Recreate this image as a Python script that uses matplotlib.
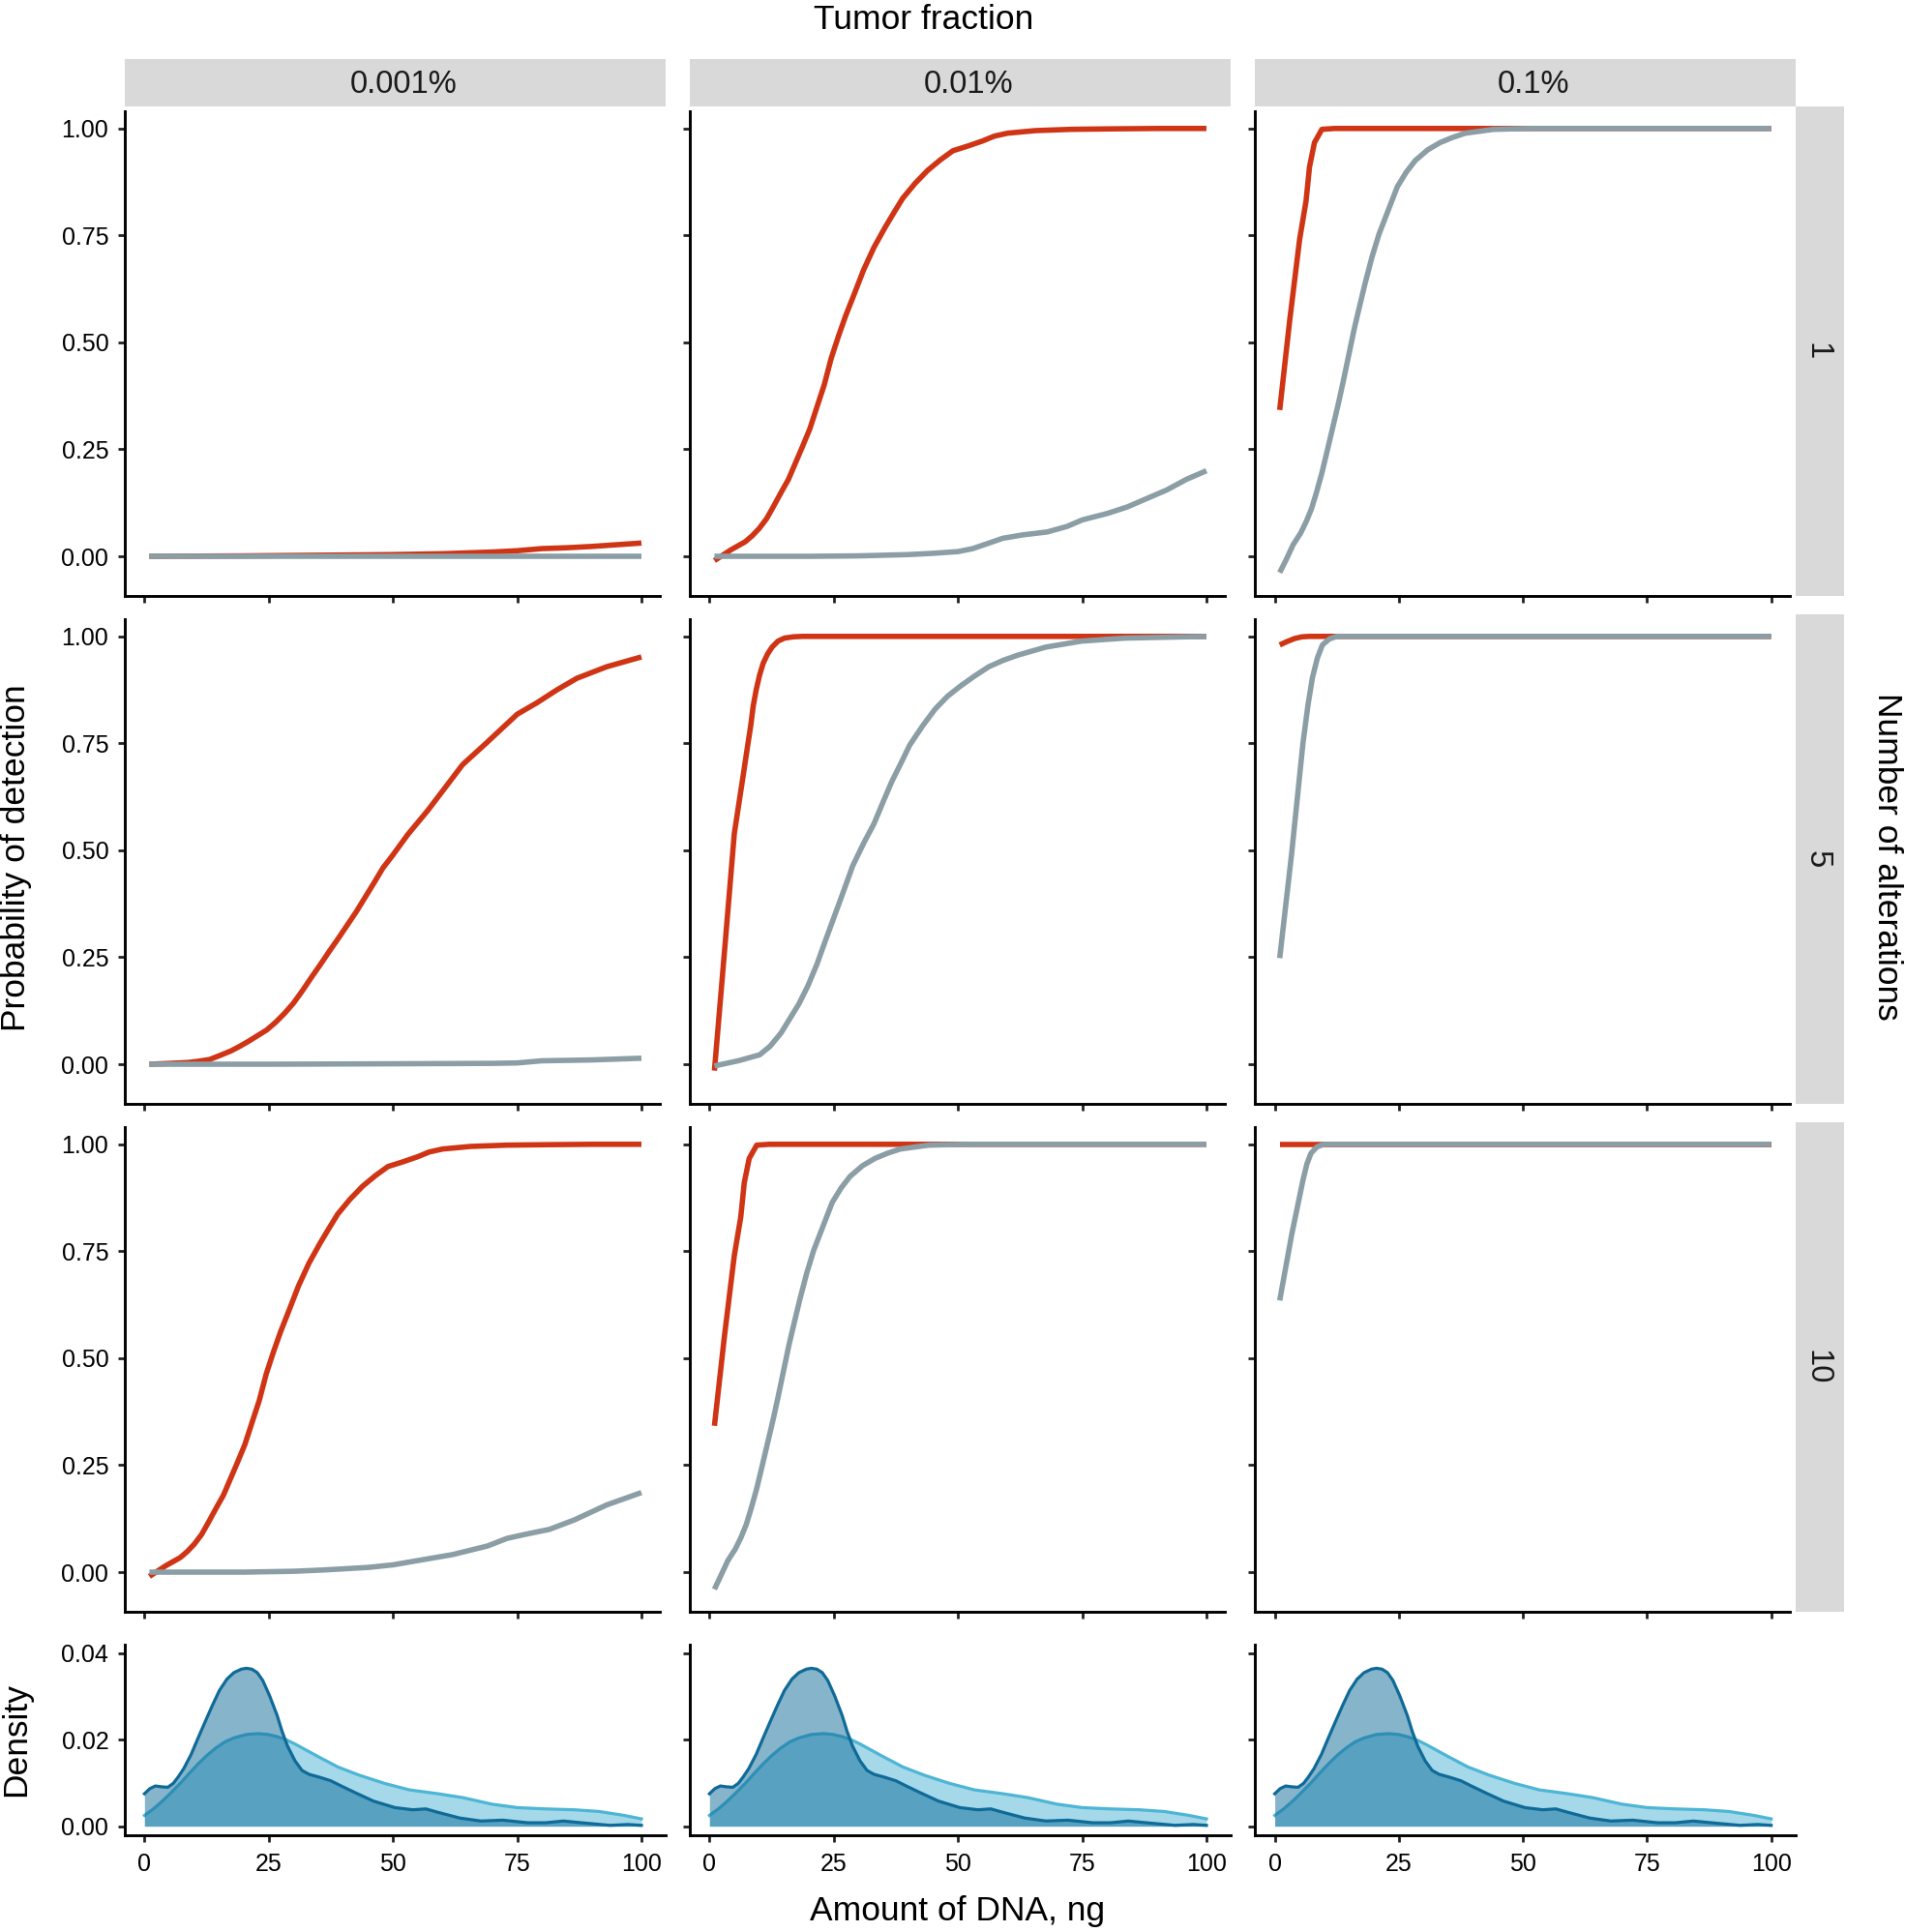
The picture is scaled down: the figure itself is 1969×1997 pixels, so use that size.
import matplotlib
matplotlib.use("Agg")
import matplotlib.pyplot as plt
from matplotlib.patches import Rectangle

plt.rcParams['font.family'] = ['Liberation Sans', 'DejaVu Sans']

# ---------------- data ----------------
tumor_fractions = ["0.001%", "0.01%", "0.1%"]
n_alterations = ["1", "5", "10"]
x_ticks = [0, 25, 50, 75, 100]
x_tick_labels = ["0", "25", "50", "75", "100"]
y_ticks = [0.00, 0.25, 0.50, 0.75, 1.00]
y_tick_labels = ["0.00", "0.25", "0.50", "0.75", "1.00"]
dens_ticks = [0.00, 0.02, 0.04]
dens_tick_labels = ["0.00", "0.02", "0.04"]

# 1 alteration, 0.001%
r1c1_red_x = [1, 20, 40, 50, 60, 65, 70, 75, 80, 85, 90, 95, 100]
r1c1_red_y = [0.0, 0.001, 0.003, 0.004, 0.006, 0.008, 0.010, 0.013, 0.018, 0.020, 0.023, 0.027, 0.031]
r1c1_gray_x = [1, 25, 50, 75, 100]
r1c1_gray_y = [0.0, 0.0, 0.0, 0.0, 0.0]

# 1 alteration, 0.01%
r1c2_red_x = [1, 4.3, 7.2, 8.6, 10, 11.5, 13, 14.4, 15.9, 17.3, 18.7, 20.2, 21.6, 23.1, 24.5, 26,
              27.4, 29.2, 31, 33.1, 35.3, 37.1, 38.9, 41.4, 43.9, 46.5, 49, 52, 55, 57.3, 60, 65.6,
              72.8, 80, 90, 100]
r1c2_red_y = [-0.01, 0.015, 0.034, 0.048, 0.065, 0.088, 0.119, 0.149, 0.18, 0.218, 0.256, 0.298,
              0.348, 0.401, 0.463, 0.516, 0.562, 0.615, 0.669, 0.722, 0.768, 0.803, 0.837, 0.872,
              0.902, 0.927, 0.948, 0.959, 0.971, 0.982, 0.989, 0.995, 0.998, 0.999, 1.0, 1.0]
r1c2_gray_x = [1, 10, 20, 30, 40, 45, 50, 53, 56, 59, 63, 68, 72, 75, 80, 84, 88, 92, 96, 100]
r1c2_gray_y = [0.0, 0.0, 0.0, 0.001, 0.004, 0.007, 0.011, 0.018, 0.03, 0.042, 0.05, 0.057, 0.07,
               0.085, 0.1, 0.115, 0.135, 0.155, 0.18, 0.2]

# 1 alteration, 0.1%
r1c3_red_x = [1, 3, 5, 6.3, 7, 8, 9.5, 12, 20, 50, 100]
r1c3_red_y = [0.342, 0.55, 0.74, 0.83, 0.91, 0.967, 0.998, 1.0, 1.0, 1.0, 1.0]
r1c3_gray_x = [1, 2.3, 3.7, 5.2, 6.3, 7.4, 8.4, 9.5, 10.6, 11.7, 12.8, 13.8, 14.9, 16, 17.1, 18.2,
               19.6, 21, 22.9, 24.7, 26.5, 28.3, 30.8, 33.3, 35.8, 38.4, 44.1, 51.3, 60, 100]
r1c3_gray_y = [-0.038, -0.008, 0.027, 0.054, 0.08, 0.111, 0.149, 0.195, 0.248, 0.302, 0.356, 0.409,
               0.47, 0.531, 0.585, 0.638, 0.7, 0.753, 0.81, 0.864, 0.898, 0.925, 0.95, 0.967, 0.979,
               0.989, 0.998, 1.0, 1.0, 1.0]

# 5 alterations, 0.001%
r2c1_red_x = [1, 5.2, 8.8, 10.9, 13.1, 15.3, 17.4, 19.2, 21, 22.8, 24.6, 26.4, 28.2, 30, 31.8, 33.6,
              35.4, 37.2, 39, 40.8, 42.6, 44.4, 46.2, 48, 49.8, 53, 57, 61, 64, 69, 75, 79, 83, 87, 93, 100]
r2c1_red_y = [0.0, 0.002, 0.004, 0.007, 0.011, 0.021, 0.031, 0.042, 0.054, 0.067, 0.08, 0.098, 0.119,
              0.143, 0.172, 0.203, 0.233, 0.264, 0.294, 0.325, 0.356, 0.39, 0.424, 0.459, 0.486, 0.537,
              0.593, 0.654, 0.7, 0.753, 0.818, 0.845, 0.875, 0.902, 0.929, 0.952]
r2c1_gray_x = [1, 25, 50, 70, 75, 80, 90, 100]
r2c1_gray_y = [0.0, 0.0, 0.001, 0.002, 0.003, 0.008, 0.010, 0.014]

# 5 alterations, 0.01%
r2c2_red_x = [1, 3, 5, 6.1, 6.8, 7.6, 8.3, 8.8, 9.4, 10.1, 10.8, 11.7, 12.6, 13.8, 15.1, 16.9, 18.7, 50, 100]
r2c2_red_y = [-0.015, 0.26, 0.539, 0.623, 0.676, 0.738, 0.791, 0.837, 0.875, 0.91, 0.937, 0.959,
              0.975, 0.989, 0.996, 0.999, 1.0, 1.0, 1.0]
r2c2_gray_x = [1, 5.8, 10.1, 12.2, 14.4, 16.2, 18, 19.8, 21.6, 23.4, 25.2, 27, 28.8, 31, 33.1, 34.9,
               36.7, 38.5, 40.3, 42.9, 45.4, 47.9, 50.4, 53.3, 56.2, 59.1, 62, 67.7, 74.9, 83.6, 100]
r2c2_gray_y = [-0.004, 0.008, 0.022, 0.042, 0.073, 0.107, 0.141, 0.183, 0.233, 0.291, 0.348, 0.405,
               0.463, 0.516, 0.562, 0.612, 0.661, 0.703, 0.746, 0.791, 0.83, 0.86, 0.883, 0.907, 0.929,
               0.944, 0.956, 0.975, 0.989, 0.996, 1.0]

# 5 alterations, 0.1%
r2c3_red_x = [1, 2.5, 4, 5.5, 7, 10, 50, 100]
r2c3_red_y = [0.98, 0.988, 0.995, 0.999, 1.0, 1.0, 1.0, 1.0]
r2c3_gray_x = [1, 3.4, 5.7, 6.7, 7.6, 8.6, 9.6, 11, 12.5, 20, 100]
r2c3_gray_y = [0.248, 0.492, 0.752, 0.84, 0.904, 0.95, 0.98, 0.994, 1.0, 1.0, 1.0]

# 10 alterations, 0.001%
r3c1_red_x = [1, 4.3, 7.2, 8.6, 10, 11.5, 13, 14.4, 15.9, 17.3, 18.7, 20.2, 21.6, 23.1, 24.5, 26,
              27.4, 29.2, 31, 33.1, 35.3, 37.1, 38.9, 41.4, 43.9, 46.5, 49, 52, 55, 57.3, 60, 65.6,
              72.8, 80, 90, 100]
r3c1_red_y = [-0.01, 0.015, 0.034, 0.048, 0.065, 0.088, 0.119, 0.149, 0.18, 0.218, 0.256, 0.298,
              0.348, 0.401, 0.463, 0.516, 0.562, 0.615, 0.669, 0.722, 0.768, 0.803, 0.837, 0.872,
              0.902, 0.927, 0.948, 0.959, 0.971, 0.982, 0.989, 0.995, 0.998, 0.999, 1.0, 1.0]
r3c1_gray_x = [1, 10, 20, 30, 36, 45, 50, 55.5, 62, 69, 73, 76.5, 81.5, 86.5, 93, 100]
r3c1_gray_y = [0.0, 0.0, 0.0, 0.002, 0.005, 0.011, 0.017, 0.028, 0.041, 0.061, 0.079, 0.088, 0.1,
               0.122, 0.157, 0.186]

# 10 alterations, 0.01%
r3c2_red_x = [1, 3, 5, 6.3, 7, 8, 9.5, 12, 20, 50, 100]
r3c2_red_y = [0.342, 0.55, 0.74, 0.83, 0.91, 0.967, 0.998, 1.0, 1.0, 1.0, 1.0]
r3c2_gray_x = [1, 2.3, 3.7, 5.2, 6.3, 7.4, 8.4, 9.5, 10.6, 11.7, 12.8, 13.8, 14.9, 16, 17.1, 18.2,
               19.6, 21, 22.9, 24.7, 26.5, 28.3, 30.8, 33.3, 35.8, 38.4, 44.1, 51.3, 60, 100]
r3c2_gray_y = [-0.04, -0.008, 0.027, 0.054, 0.08, 0.111, 0.149, 0.195, 0.248, 0.302, 0.356, 0.409,
               0.47, 0.531, 0.585, 0.638, 0.7, 0.753, 0.81, 0.864, 0.898, 0.925, 0.95, 0.967, 0.979,
               0.989, 0.998, 1.0, 1.0, 1.0]

# 10 alterations, 0.1%
r3c3_red_x = [1, 25, 50, 75, 100]
r3c3_red_y = [1.0, 1.0, 1.0, 1.0, 1.0]
r3c3_gray_x = [1, 3.4, 5.7, 6.5, 7.3, 8.5, 9.9, 15, 100]
r3c3_gray_y = [0.635, 0.788, 0.917, 0.955, 0.979, 0.994, 1.0, 1.0, 1.0]

# density of DNA amount
dens_dark_x = [0, 1.1, 2.2, 3.5, 4.7, 5.8, 6.8, 7.9, 9.4, 10.8, 12.2, 13.7, 15.1, 16.6, 18, 19.5,
               20.5, 21.6, 22.7, 23.8, 25.2, 26.7, 27.7, 28.8, 30.3, 31.7, 33.1, 35.3, 37.5, 39.6,
               42.5, 46.1, 50.4, 54, 56.6, 59.1, 63.4, 67.7, 72.1, 77.1, 80.7, 84.3, 87.9, 93.7, 97.3, 100]
dens_dark_y = [0.0075, 0.0087, 0.0093, 0.0091, 0.009, 0.0099, 0.0114, 0.0133, 0.0166, 0.0204, 0.0241,
               0.028, 0.0314, 0.0340, 0.0355, 0.0363, 0.0365, 0.0363, 0.0355, 0.0337, 0.0301, 0.0256,
               0.0219, 0.0185, 0.0151, 0.0129, 0.012, 0.0113, 0.0105, 0.0093, 0.0077, 0.0058, 0.0043,
               0.0038, 0.004, 0.0032, 0.0019, 0.0012, 0.0014, 0.0008, 0.0008, 0.0012, 0.0008, 0.0002,
               0.0004, 0.0002]
dens_light_x = [0, 1.8, 3.6, 5.4, 7.2, 9, 10.8, 12.6, 14.4, 16.2, 18, 20.5, 23, 24.9, 26.7, 28.5,
                30.3, 34.6, 38.9, 43.2, 48.3, 53.3, 59.1, 64.1, 69.9, 75, 80.7, 86.5, 91.5, 96.5, 100]
dens_light_y = [0.0025, 0.004, 0.0058, 0.0078, 0.0099, 0.0122, 0.0144, 0.0164, 0.0181, 0.0195, 0.0204,
                0.0212, 0.0214, 0.0212, 0.0207, 0.02, 0.019, 0.0163, 0.0137, 0.0118, 0.0099, 0.0084,
                0.0075, 0.0066, 0.0051, 0.0043, 0.004, 0.0038, 0.0034, 0.0025, 0.0017]

panels = {
    (0, 0): (r1c1_red_x, r1c1_red_y, r1c1_gray_x, r1c1_gray_y),
    (0, 1): (r1c2_red_x, r1c2_red_y, r1c2_gray_x, r1c2_gray_y),
    (0, 2): (r1c3_red_x, r1c3_red_y, r1c3_gray_x, r1c3_gray_y),
    (1, 0): (r2c1_red_x, r2c1_red_y, r2c1_gray_x, r2c1_gray_y),
    (1, 1): (r2c2_red_x, r2c2_red_y, r2c2_gray_x, r2c2_gray_y),
    (1, 2): (r2c3_red_x, r2c3_red_y, r2c3_gray_x, r2c3_gray_y),
    (2, 0): (r3c1_red_x, r3c1_red_y, r3c1_gray_x, r3c1_gray_y),
    (2, 1): (r3c2_red_x, r3c2_red_y, r3c2_gray_x, r3c2_gray_y),
    (2, 2): (r3c3_red_x, r3c3_red_y, r3c3_gray_x, r3c3_gray_y),
}

# ---------------- style / layout ----------------
RED = "#CF3414"
GRAY = "#8B9DA5"
DARK = "#0F6A98"
LIGHT = "#4DB5D5"
STRIP = "#D9D9D9"
TICK_FS = 18
STRIP_FS = 23.5
TITLE_FS = 25.5
CURVE_LW = 4.0
DENS_LW = 2.3

W, H = 1969, 1997
fig = plt.figure(figsize=(W / 100, H / 100), dpi=100)
fig.patch.set_facecolor("white")


def rect(l, t, r, b):
    return [l / W, 1 - b / H, (r - l) / W, (b - t) / H]


col_x = [(129.0, 688.4), (713.0, 1272.4), (1297.3, 1856.1)]
row_y = [(109.8, 615.7), (634.8, 1140.7), (1159.8, 1665.7)]
dens_y = (1699.8, 1896.6)
XLIM = (-3.95, 104.95)
YLIM = (-0.092, 1.052)
DLIM = (-0.002, 0.042)


def style_axis(ax):
    for s in ("top", "right"):
        ax.spines[s].set_visible(False)
    for s in ("left", "bottom"):
        ax.spines[s].set_linewidth(2.1)
        ax.spines[s].set_color("black")
    ax.tick_params(axis="both", which="major", length=5, width=2.0, color="#222222",
                   labelsize=TICK_FS, labelcolor="black", pad=7)
    ax.set_facecolor("white")


for r in range(3):
    for c in range(3):
        l, rr = col_x[c]
        t, b = row_y[r]
        ax = fig.add_axes(rect(l, t, rr, b))
        rx, ry, gx, gy = panels[(r, c)]
        ax.plot(rx, ry, color=RED, lw=CURVE_LW, solid_capstyle="butt", solid_joinstyle="round", zorder=2)
        ax.plot(gx, gy, color=GRAY, lw=CURVE_LW, solid_capstyle="butt", solid_joinstyle="round", zorder=3)
        ax.set_xlim(*XLIM)
        ax.set_ylim(*YLIM)
        style_axis(ax)
        ax.spines["left"].set_bounds(YLIM[0], 1.04)
        ax.spines["bottom"].set_bounds(XLIM[0], 103.8)
        ax.set_xticks(x_ticks)
        ax.set_yticks(y_ticks)
        ax.tick_params(labelbottom=False)
        if c == 0:
            ax.set_yticklabels(y_tick_labels)
        else:
            ax.tick_params(labelleft=False)

# density row
for c in range(3):
    l, rr = col_x[c]
    t, b = dens_y
    ax = fig.add_axes(rect(l, t, rr, b))
    ax.fill_between(dens_light_x, 0, dens_light_y, color=LIGHT, alpha=0.5, lw=0, zorder=1)
    ax.plot(dens_light_x, dens_light_y, color=LIGHT, lw=DENS_LW, solid_joinstyle="round", zorder=2)
    ax.fill_between(dens_dark_x, 0, dens_dark_y, color=DARK, alpha=0.5, lw=0, zorder=3)
    ax.plot(dens_dark_x, dens_dark_y, color=DARK, lw=DENS_LW, solid_joinstyle="round", zorder=4)
    ax.set_xlim(*XLIM)
    ax.set_ylim(*DLIM)
    style_axis(ax)
    ax.tick_params(axis="x", pad=8.5)
    ax.set_xticks(x_ticks)
    ax.set_xticklabels(x_tick_labels)
    ax.set_yticks(dens_ticks)
    if c == 0:
        ax.set_yticklabels(dens_tick_labels)
    else:
        ax.tick_params(labelleft=False)

# top strips
for c in range(3):
    l, rr = col_x[c]
    fig.add_artist(Rectangle((l / W, 1 - 109.8 / H), (rr - l) / W, (109.8 - 61) / H,
                             transform=fig.transFigure, facecolor=STRIP, edgecolor="none"))
    fig.text(((l + rr) / 2 + 8) / W, 1 - 88 / H, tumor_fractions[c], ha="center", va="center",
             fontsize=STRIP_FS, color="#1a1a1a")

# right strips
for r in range(3):
    t, b = row_y[r]
    fig.add_artist(Rectangle((1856.1 / W, 1 - b / H), (1906 - 1856.1) / W, (b - t) / H,
                             transform=fig.transFigure, facecolor=STRIP, edgecolor="none"))
    fig.text(((1856.1 + 1906) / 2 - 3) / W, 1 - (t + b) / 2 / H, n_alterations[r], ha="center",
             va="center", rotation=-90, fontsize=STRIP_FS, color="#1a1a1a")

# titles
fig.text(955 / W, 1 - 30 / H, "Tumor fraction", ha="center", va="baseline", fontsize=TITLE_FS)
fig.text(990 / W, 1 - 1985 / H, "Amount of DNA, ng", ha="center", va="baseline", fontsize=TITLE_FS)
fig.text(17 / W, 1 - 887 / H, "Probability of detection", ha="center", va="center",
         rotation=90, fontsize=TITLE_FS)
fig.text(17 / W, 1 - 1798 / H, "Density", ha="center", va="center", rotation=90, fontsize=TITLE_FS)
fig.text(1950 / W, 1 - 885 / H, "Number of alterations", ha="center", va="center",
         rotation=-90, fontsize=TITLE_FS)

fig.savefig("out.png", dpi=100, facecolor="white")
